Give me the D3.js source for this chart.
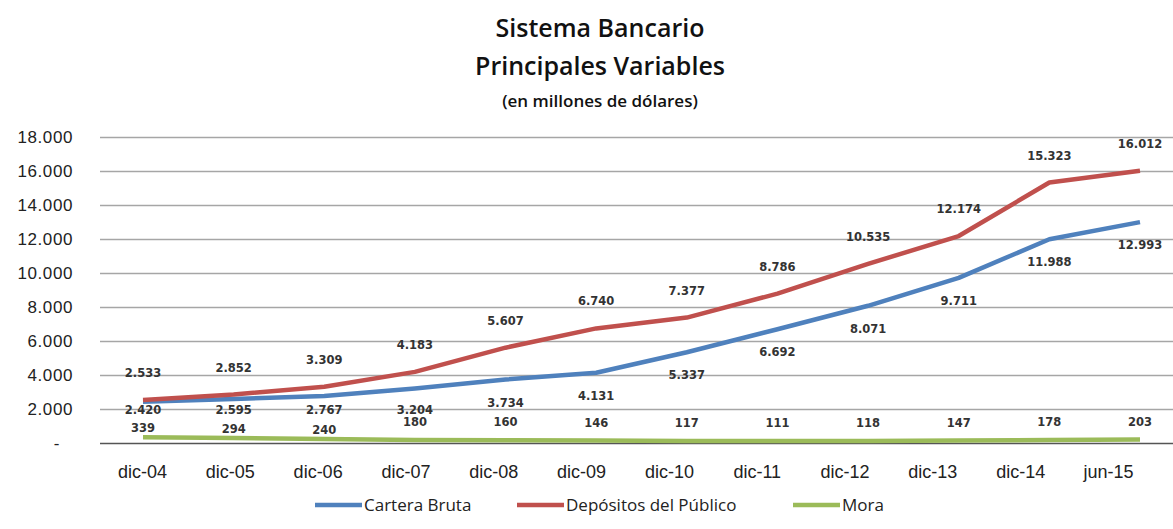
<!DOCTYPE html>
<html>
<head>
<meta charset="utf-8">
<script src="https://cdn.jsdelivr.net/npm/d3@7"></script>
<style>
  body { margin: 0; background: #fff; }
  svg { display: block; }
</style>
</head>
<body>
<div id="chart"></div>
<script>
// datos del grafico
var categorias = ["dic-04", "dic-05", "dic-06", "dic-07", "dic-08", "dic-09", "dic-10", "dic-11", "dic-12", "dic-13", "dic-14", "jun-15"];
var carteraBruta = [2420, 2595, 2767, 3204, 3734, 4131, 5337, 6692, 8071, 9711, 11988, 12993];
var depositos = [2533, 2852, 3309, 4183, 5607, 6740, 7377, 8786, 10535, 12174, 15323, 16012];
var mora = [339, 294, 240, 180, 160, 146, 117, 111, 118, 147, 178, 203];
var yTicks = [0, 2000, 4000, 6000, 8000, 10000, 12000, 14000, 16000, 18000];

var w = 1173;
var h = 529;

var series = [
  { name: "Cartera Bruta", values: carteraBruta, color: "#4F81BD", pos: "below" },
  { name: "Depósitos del Público", values: depositos, color: "#C0504D", pos: "above" },
  { name: "Mora", values: mora, color: "#9BBB59", pos: "mora" }
];

var svg = d3.select("#chart")
    .append("svg")
    .attr("width", w)
    .attr("height", h);

// escalas
var x = d3.scalePoint().domain(categorias).range([143, 1140]);
var xLabels = d3.scalePoint().domain(categorias).range([142, 1108]);
var y = d3.scaleLinear().domain([0, 18000]).range([443, 137]);

var fmt = function(v) {
  if (v == 0) return "-";
  return d3.format(",")(v).replace(/,/g, ".");
};

// titulo
var titulos = [
  { t: "Sistema Bancario", y: 37, size: "25px" },
  { t: "Principales Variables", y: 75, size: "25px" },
  { t: "(en millones de dólares)", y: 107, size: "17px" }
];
svg.selectAll("text.titulo")
   .data(titulos)
   .enter()
   .append("text")
   .attr("class", "titulo")
   .attr("x", 600)
   .attr("y", function(d) { return d.y; })
   .attr("text-anchor", "middle")
   .attr("font-family", "Open Sans")
   .attr("font-weight", 600)
   .attr("font-size", function(d) { return d.size; })
   .attr("fill", "#111")
   .text(function(d) { return d.t; });

// grilla
var yAxis = d3.axisLeft(y)
    .tickValues(yTicks)
    .tickSize(-1090)
    .tickPadding(27)
    .tickFormat(fmt);

var gy = svg.append("g")
    .attr("transform", "translate(100,0)")
    .call(yAxis);
gy.select(".domain").remove();
gy.selectAll(".tick line")
    .attr("stroke", function(d) { return d == 0 ? "#555" : "#a6a6a6"; })
    .attr("stroke-width", 1.5);
gy.selectAll(".tick text")
    .attr("font-family", "Liberation Sans")
    .attr("font-size", "17px")
    .attr("letter-spacing", "0.6px")
    .attr("fill", "#222")
    .attr("dx", function(d) { return d == 0 ? -13 : 0; });

// eje x
var xAxis = d3.axisBottom(xLabels).tickSize(0).tickPadding(22);
var gx = svg.append("g")
    .attr("transform", "translate(0,443)")
    .call(xAxis);
gx.select(".domain").remove();
gx.selectAll(".tick text")
    .attr("font-family", "Liberation Sans")
    .attr("font-size", "18px")
    .attr("fill", "#222");

// lineas
var line = d3.line()
    .x(function(d, i) { return x(categorias[i]); })
    .y(function(d) { return y(d); });

svg.selectAll("path.serie")
   .data(series)
   .enter()
   .append("path")
   .attr("class", "serie")
   .attr("d", function(s) { return line(s.values); })
   .attr("fill", "none")
   .attr("stroke", function(s) { return s.color; })
   .attr("stroke-width", 4.5)
   .attr("stroke-linejoin", "round");

// etiquetas de datos
function labelY(s, v, i) {
  if (s.pos == "above") return y(v) - 23;
  if (s.pos == "below") return Math.min(y(v) + 27, 414);
  // mora: baja un poco si la cartera esta muy cerca
  if (y(v) - y(carteraBruta[i]) < 45) return y(v) - 5;
  return y(v) - 14;
}

series.forEach(function(s) {
  svg.selectAll("text.lbl-" + s.pos)
     .data(s.values)
     .enter()
     .append("text")
     .attr("class", "lbl-" + s.pos)
     .attr("x", function(d, i) { return x(categorias[i]); })
     .attr("y", function(d, i) { return labelY(s, d, i); })
     .attr("text-anchor", "middle")
     .attr("font-family", "DejaVu Sans")
     .attr("font-weight", "bold")
     .attr("font-size", "11.5px")
     .attr("fill", "#333")
     .text(function(d) { return fmt(d); });
});

// leyenda
var legendX = [315, 517, 793];
var lg = svg.selectAll("g.legend")
    .data(series)
    .enter()
    .append("g")
    .attr("class", "legend")
    .attr("transform", function(d, i) { return "translate(" + legendX[i] + ",505)"; });
lg.append("line")
   .attr("x1", 0).attr("x2", 47)
   .attr("y1", 0).attr("y2", 0)
   .attr("stroke", function(d) { return d.color; })
   .attr("stroke-width", 4.5);
lg.append("text")
   .attr("x", 49).attr("y", 6)
   .attr("font-family", "Open Sans")
   .attr("font-size", "17px")
   .attr("fill", "#222")
   .text(function(d) { return d.name; });
</script>
</body>
</html>
